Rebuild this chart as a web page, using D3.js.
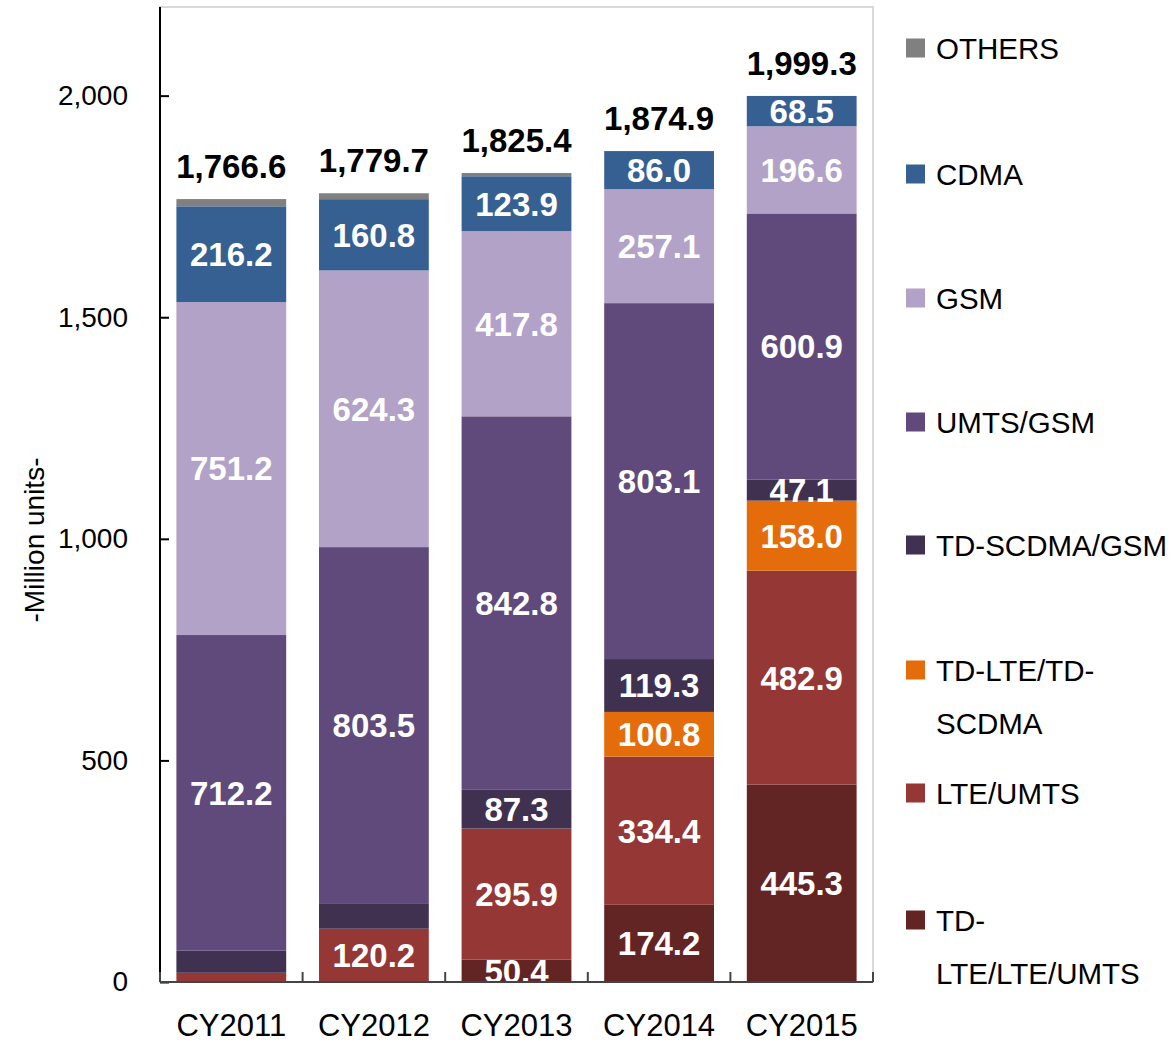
<!DOCTYPE html>
<html><head><meta charset="utf-8">
<script src="https://cdn.jsdelivr.net/npm/d3@7"></script>
<style>body{margin:0;background:#fff;font-family:"Liberation Sans",Arial,sans-serif;}</style>
</head><body><svg id="c" width="1175" height="1042"></svg>
<script>
const categories = ["CY2011","CY2012","CY2013","CY2014","CY2015"];
const seriesNames = ["TD-LTE/LTE/UMTS","LTE/UMTS","TD-LTE/TD-SCDMA","TD-SCDMA/GSM","UMTS/GSM","GSM","CDMA","OTHERS"];
const tdLteLteUmts = [0, 0, 50.4, 174.2, 445.3];
const lteUmts      = [20.8, 120.2, 295.9, 334.4, 482.9];
const tdLteTdScdma = [0, 0, 0, 100.8, 158.0];
const tdScdmaGsm   = [49.9, 57.6, 87.3, 119.3, 47.1];
const umtsGsm      = [712.2, 803.5, 842.8, 803.1, 600.9];
const gsm          = [751.2, 624.3, 417.8, 257.1, 196.6];
const cdma         = [216.2, 160.8, 123.9, 86.0, 68.5];
const others       = [16.3, 13.3, 7.3, 0, 0];
const totals       = [1766.6, 1779.7, 1825.4, 1874.9, 1999.3];
const showLabel = {
  "TD-LTE/LTE/UMTS":[0,0,1,1,1],
  "LTE/UMTS":[0,1,1,1,1],
  "TD-LTE/TD-SCDMA":[0,0,0,1,1],
  "TD-SCDMA/GSM":[0,0,1,1,1],
  "UMTS/GSM":[1,1,1,1,1],
  "GSM":[1,1,1,1,1],
  "CDMA":[1,1,1,1,1],
  "OTHERS":[0,0,0,0,0]
};
const yTicks = [0,500,1000,1500,2000];
const colors = {
  "TD-LTE/LTE/UMTS":"#632523","LTE/UMTS":"#953735","TD-LTE/TD-SCDMA":"#e46c0a",
  "TD-SCDMA/GSM":"#403151","UMTS/GSM":"#604a7b","GSM":"#b3a2c7","CDMA":"#376092","OTHERS":"#808080"
};
const seriesArrays = [tdLteLteUmts,lteUmts,tdLteTdScdma,tdScdmaGsm,umtsGsm,gsm,cdma,others];
const table = categories.map((c,i)=>{const o={cat:c}; seriesNames.forEach((s,j)=>o[s]=seriesArrays[j][i]); return o;});

const svg = d3.select("#c");
const L=160, R=873, T=7, B=982;
const x = d3.scaleBand().domain(categories).range([L,R]).paddingInner(0.23).paddingOuter(0.115);
const y = d3.scaleLinear().domain([0,2200]).range([B,T]);

svg.append("rect").attr("x",L).attr("y",T).attr("width",R-L).attr("height",B-T)
  .attr("fill","none").attr("stroke","#d9d9d9").attr("stroke-width",2);

const stack = d3.stack().keys(seriesNames)(table);
const g = svg.append("g");
stack.forEach(layer=>{
  g.selectAll(null).data(layer).enter().append("rect")
    .attr("x",d=>x(d.data.cat)).attr("width",x.bandwidth())
    .attr("y",d=>y(d[1])).attr("height",d=>Math.max(0,y(d[0])-y(d[1])))
    .attr("fill",colors[layer.key]);
});
stack.forEach(layer=>{
  g.selectAll(null).data(layer.filter((d,i)=>showLabel[layer.key][i])).enter().append("text")
    .attr("x",d=>x(d.data.cat)+x.bandwidth()/2)
    .attr("y",d=>(y(d[0])+y(d[1]))/2)
    .attr("dy","0.36em").attr("text-anchor","middle")
    .attr("fill","#fff").attr("font-weight","bold").attr("font-size",33)
    .text(d=>d3.format(".1f")(d[1]-d[0]));
});
g.selectAll(null).data(categories).enter().append("text")
  .attr("x",c=>x(c)+x.bandwidth()/2)
  .attr("y",(c,i)=>y(totals[i])-21)
  .attr("text-anchor","middle").attr("font-weight","bold").attr("font-size",33).attr("fill","#000")
  .text((c,i)=>d3.format(",.1f")(totals[i]));

const yAxis = svg.append("g").attr("transform",`translate(${L},0)`)
  .call(d3.axisLeft(y).tickValues(yTicks).tickSize(-9).tickPadding(32).tickFormat(d3.format(",")));
yAxis.select(".domain").attr("stroke","#000").attr("stroke-width",2).attr("d",`M0,${T}V${B}`);
yAxis.selectAll(".tick line").attr("stroke","#000").attr("stroke-width",2);
yAxis.selectAll(".tick text").attr("font-size",28).attr("fill","#000").attr("font-family","Liberation Sans, Arial");

const xAxis = svg.append("g").attr("transform",`translate(0,${B})`)
  .call(d3.axisBottom(x).tickSize(0).tickPadding(32));
xAxis.select(".domain").attr("stroke","#444").attr("stroke-width",2).attr("d",`M${L},0H${R}`);
xAxis.selectAll(".tick text").attr("font-size",31).attr("fill","#000").attr("font-family","Liberation Sans, Arial");
const step = x.step();
svg.append("g").selectAll("line").data(d3.range(categories.length+1)).enter().append("line")
  .attr("x1",i=>L+i*step).attr("x2",i=>L+i*step).attr("y1",B).attr("y2",B-10)
  .attr("stroke","#444").attr("stroke-width",2);

svg.append("text").attr("transform","translate(44,540) rotate(-90)")
  .attr("text-anchor","middle").attr("font-size",28).attr("fill","#000").text("-Million units-");

const legendOrder = ["OTHERS","CDMA","GSM","UMTS/GSM","TD-SCDMA/GSM","TD-LTE/TD-SCDMA","LTE/UMTS","TD-LTE/LTE/UMTS"];
const legendLines = {"TD-LTE/TD-SCDMA":["TD-LTE/TD-","SCDMA"],"TD-LTE/LTE/UMTS":["TD-","LTE/LTE/UMTS"]};
const legendY = [48,174,298,422,545,670,793,920];
const lg = svg.append("g");
legendOrder.forEach((s,i)=>{
  const cy = legendY[i];
  lg.append("rect").attr("x",906).attr("y",cy-9.5).attr("width",19).attr("height",19).attr("fill",colors[s]);
  const lines = legendLines[s]||[s];
  lines.forEach((t,k)=>{
    lg.append("text").attr("x",936).attr("y",cy+k*53).attr("dy","0.36em")
      .attr("font-size",29.5).attr("fill","#000").text(t);
  });
});
</script></body></html>
